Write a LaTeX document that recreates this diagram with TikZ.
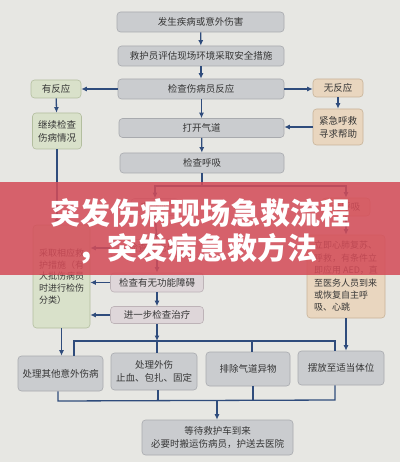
\documentclass[tikz,border=0pt]{standalone}
\usepackage{fontspec}
\setmainfont{Noto Sans CJK SC}
\usetikzlibrary{arrows.meta}
\definecolor{bg}{HTML}{E7E7E3}
\definecolor{navy}{HTML}{2F4C7C}
\definecolor{txt}{HTML}{363636}
\definecolor{grayf}{HTML}{CACCCF}
\definecolor{grayl}{HTML}{A8AAAE}
\definecolor{greenf}{HTML}{D9E1CA}
\definecolor{greenl}{HTML}{B3BE9F}
\definecolor{peachf}{HTML}{E9D6BF}
\definecolor{peachl}{HTML}{C8B398}
\definecolor{pinkf}{HTML}{DED6D9}
\definecolor{pinkl}{HTML}{BDB3B7}
\definecolor{bannerred}{RGB}{212,76,88}
\tikzset{
  box/.style={line width=0.6pt, rounded corners=3.5pt, align=center, inner sep=1pt,
    font=\fontsize{9.5}{13}\selectfont, text=txt},
  gbox/.style={box, draw=grayl, fill=grayf},
  greenbox/.style={box, draw=greenl, fill=greenf},
  peachbox/.style={box, draw=peachl, fill=peachf},
  pinkbox/.style={box, draw=pinkl, fill=pinkf},
  arr/.style={draw=navy, line width=1.3pt, -{Latex[length=5.5pt,width=5pt]}},
  ln/.style={draw=navy, line width=1.3pt},
  bannertext/.style={font=\fontsize{30}{30}\selectfont\bfseries, text=white, inner sep=0pt}
}
\begin{document}
\begin{tikzpicture}[x=1pt,y=-1pt]
\useasboundingbox (0,0) rectangle (400,462);
\fill[bg] (0,0) rectangle (400,462);

% main column
\node[gbox, minimum width=167pt, minimum height=20pt] (n1) at (200.5,22) {发生疾病或意外伤害};
\node[gbox, minimum width=166pt, minimum height=20pt] (n2) at (201,56) {救护员评估现场环境采取安全措施};
\node[gbox, minimum width=166pt, minimum height=20pt] (n3) at (201,89) {检查伤病员反应};
\node[greenbox, minimum width=50pt, minimum height=18pt] (yes) at (56,89) {有反应};
\node[peachbox, minimum width=50pt, minimum height=18pt] (no) at (338,88) {无反应};
\node[greenbox, minimum width=49pt, minimum height=36pt] (cont) at (57,131) {继续检查\\伤病情况};
\node[peachbox, minimum width=50pt, minimum height=36pt] (call) at (338,127) {紧急呼救\\寻求帮助};
\node[gbox, minimum width=165pt, minimum height=19pt] (n4) at (201.5,128) {打开气道};
\node[gbox, minimum width=164pt, minimum height=20pt] (n5) at (202,163) {检查呼吸};
\coordinate (j1) at (202,186);

\node[pinkbox, minimum width=48pt, minimum height=17pt] (breath) at (155,207) {有呼吸};
\node[peachbox, minimum width=48pt, minimum height=18pt] (nobreath) at (346,207) {无呼吸};
\node[pinkbox, minimum width=93pt, minimum height=17pt] (bleed) at (157,248) {检查有无出血};
\node[pinkbox, minimum width=93pt, minimum height=19pt] (func) at (157,282.5) {检查有无功能障碍};
\node[pinkbox, minimum width=93pt, minimum height=17pt] (further) at (157,315) {进一步检查治疗};
\node[greenbox, minimum width=57pt, minimum height=103pt, align=left,
      font=\fontsize{9}{11.8}\selectfont] (measure) at (61.5,276.5)
  {采取相应救\\护措施（有\\大批伤病员\\时进行检伤\\分类）};
\node[peachbox, minimum width=78pt, minimum height=83pt, align=left,
      font=\fontsize{9}{12.4}\selectfont] (cpr) at (346,276.5)
  {立即心肺复苏、\\呼救，有条件立\\即应用 AED，直\\至医务人员到来\\或恢复自主呼\\吸、心跳};

% bottom row
\node[gbox, minimum width=85pt, minimum height=35pt] (b1) at (60.5,373.5) {处理其他意外伤病};
\node[gbox, minimum width=86pt, minimum height=37pt] (b2) at (154,371.5) {处理外伤\\止血、包扎、固定};
\node[gbox, minimum width=84pt, minimum height=34pt] (b3) at (248,369) {排除气道异物};
\node[gbox, minimum width=86pt, minimum height=34pt] (b4) at (341,368) {摆放至适当体位};
\node[gbox, minimum width=151pt, minimum height=35pt] (final) at (217.5,437.5)
  {等待救护车到来\\必要时搬运伤病员，护送去医院};

% connectors
\draw[arr] (n1) -- (n2);
\draw[arr] (n2) -- (n3);
\draw[arr] (n3.west) -- (yes.east);
\draw[arr] (n3.east) -- (no.west |- n3.east);
\draw[arr] (yes) -- (cont);
\draw[arr] (no) -- (call);
\draw[arr] (call.west) -- (n4.east |- call.west);
\draw[arr] (n3.south -| n4.north) -- (n4.north);
\draw[arr] (n4) -- (n5);
\draw[ln] (n5.south) -- (j1);
\draw[arr] (j1) -| (breath.north);
\draw[arr] (j1) -| (nobreath.north);
\draw[arr] (cont.south) -- (cont.south |- measure.north);
\draw[arr] (breath) -- (bleed);
\draw[arr] (bleed) -- (func);
\draw[arr] (func) -- (further);
\draw[arr] (bleed.west) -- (measure.east |- bleed.west);
\draw[arr] (func.west) -- (measure.east |- func.west);
\draw[arr] (further.west) -- (measure.east |- further.west);
\draw[arr] (nobreath) -- (cpr);
\draw[arr] (measure.south) -- (measure.south |- b1.north);
\draw[arr] (cpr.south) -- (cpr.south |- b4.north);

\coordinate (busL) at (74,341);
\coordinate (busR) at (335,341);
\coordinate (bus3) at (252,341);
\draw[ln] (busL |- b1.north) -- (busL) -- (busR) -- (busR |- b4.north);
\draw[arr] (further.south) -- (further.south |- busL);
\draw[ln] (further.south |- busL) -- (further.south |- b2.north);
\draw[ln] (bus3) -- (bus3 |- b3.north);

\coordinate (lowL) at (58,401);
\coordinate (lowR) at (335,400);
\coordinate (low2) at (158,400.6);
\coordinate (low3) at (253,400.3);
\coordinate (low5) at (217,400.5);
\draw[ln] (lowL |- b1.south) -- (lowL) -- (lowR) -- (lowR |- b4.south);
\draw[ln] (low2 |- b2.south) -- (low2);
\draw[ln] (low3 |- b3.south) -- (low3);
\draw[arr] (low5) -- (low5 |- final.north);

% banner overlay
\fill[bannerred, opacity=0.86] (0,182) rectangle (400,275);
\node[bannertext] (t1) at (200,213) {突发伤病现场急救流程};
\node[bannertext] (t2) at (197,249) {，突发病急救方法};
\end{tikzpicture}
\end{document}
